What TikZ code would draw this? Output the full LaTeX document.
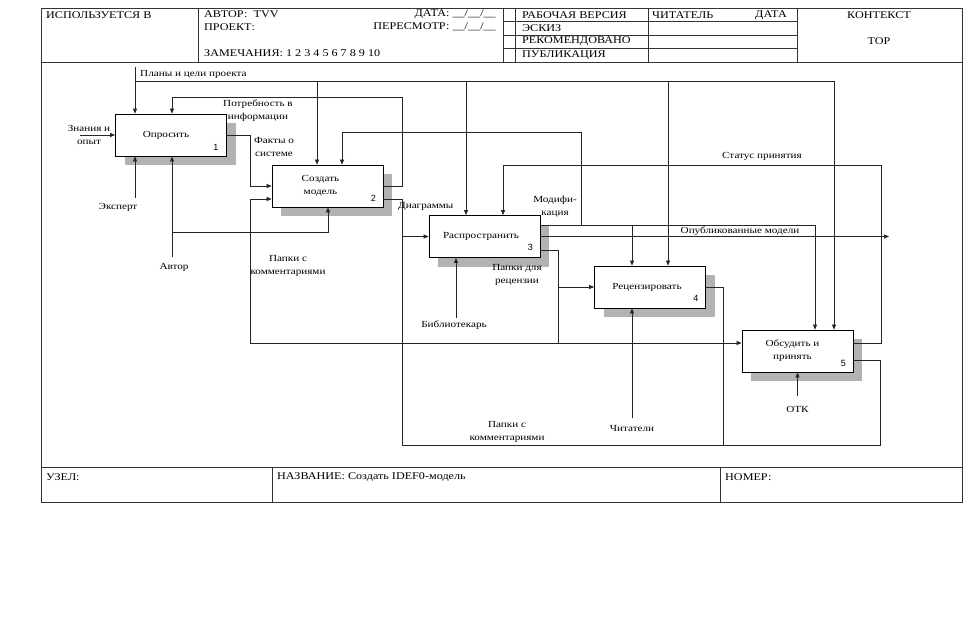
\documentclass[tikz,border=0pt]{standalone}
\usepackage{fontspec}
\setmainfont{Liberation Serif}
\setsansfont{Liberation Sans}
\newfontfamily\lblfont[FakeStretch=1.2]{Liberation Serif}
\newfontfamily\hdrfont[FakeStretch=1.18]{Liberation Serif}
\usetikzlibrary{arrows.meta,shadows}
\begin{document}
\begin{tikzpicture}[x=1pt,y=-1pt,
  ln/.style={line width=0.7pt, draw=black!85},
  arr/.style={ln, -{Triangle[length=5pt,width=4pt]}},
  fn/.style={draw=black, line width=0.8pt, fill=white, minimum width=111pt, minimum height=42pt, inner sep=0pt,
    drop shadow={shadow xshift=9pt, shadow yshift=-9pt, fill=black!30, opacity=1}},
  lbl/.style={font=\lblfont\fontsize{9.3}{13}\selectfont, align=center, inner sep=0pt},
  num/.style={font=\sffamily\fontsize{9}{10}\selectfont, inner sep=0pt},
  hdr/.style={font=\hdrfont\fontsize{10.3}{11}\selectfont, inner sep=0pt, anchor=west},
  frm/.style={line width=0.7pt, draw=black!80}
]
\useasboundingbox (0,0) rectangle (973,628);
\fill[white] (0,0) rectangle (973,628);

% ---------- frame, header, footer ----------
\draw[frm] (41,8) rectangle (962,502);
\draw[frm] (41,62) -- (962,62);
\draw[frm] (41,467) -- (962,467);
\draw[frm] (198,8) -- (198,62);
\draw[frm] (503,8) -- (503,62);
\draw[frm] (515,8) -- (515,62);
\draw[frm] (648,8) -- (648,62);
\draw[frm] (797,8) -- (797,62);
\draw[frm] (503,21.5) -- (797,21.5);
\draw[frm] (503,35) -- (797,35);
\draw[frm] (503,48.5) -- (797,48.5);
\draw[frm] (272,467) -- (272,502);
\draw[frm] (720,467) -- (720,502);

\node[hdr] (h1) at (46,15) {ИСПОЛЬЗУЕТСЯ В};
\node[hdr] (h2) at (204,14) {АВТОР:\ \ TVV};
\node[hdr,anchor=east] (h3) at (496,14) {ДАТА: \_\_/\_\_/\_\_};
\node[hdr] (h4) at (204,27) {ПРОЕКТ:};
\node[hdr,anchor=east] (h5) at (496,27) {ПЕРЕСМОТР: \_\_/\_\_/\_\_};
\node[hdr] (h6) at (204,53) {ЗАМЕЧАНИЯ: 1 2 3 4 5 6 7 8 9 10};
\node[hdr] (h7) at (522,15) {РАБОЧАЯ ВЕРСИЯ};
\node[hdr] (h8) at (522,28) {ЭСКИЗ};
\node[hdr] (h9) at (522,41.5) {РЕКОМЕНДОВАНО};
\node[hdr] (h10) at (522,55) {ПУБЛИКАЦИЯ};
\node[hdr] (h11) at (652,15) {ЧИТАТЕЛЬ};
\node[hdr] (h12) at (755,15) {ДАТА};
\node[hdr,anchor=center] (h13) at (879,15) {КОНТЕКСТ};
\node[hdr,anchor=center] (h14) at (879,41) {TOP};
\node[hdr] (f1) at (46,477) {УЗЕЛ:};
\node[hdr] (f2) at (277,477) {НАЗВАНИЕ: Создать IDEF0-модель};
\node[hdr] (f3) at (725,477) {НОМЕР:};

% ---------- function boxes ----------
\node[fn] (b1) at (171,135) {};
\node[fn] (b2) at (327.5,186) {};
\node[fn] (b3) at (484.5,236.5) {};
\node[fn] (b4) at (650,287) {};
\node[fn] (b5) at (797.5,351) {};

\node[lbl] (t1) at ([xshift=-5pt]b1.center) {Опросить};
\node[lbl] (t2) at ([xshift=-7pt]b2.center) {Создать\\модель};
\node[lbl] (t3) at ([xshift=-3.5pt]b3.center) {Распространить};
\node[lbl] (t4) at ([xshift=-3pt]b4.center) {Рецензировать};
\node[lbl] (t5) at ([xshift=-5pt]b5.center) {Обсудить и\\принять};
\node[num] (n1) at ([shift={(-11,-9)}]b1.south east) {1};
\node[num] (n2) at ([shift={(-10,-9)}]b2.south east) {2};
\node[num] (n3) at ([shift={(-10,-10)}]b3.south east) {3};
\node[num] (n4) at ([shift={(-10,-10)}]b4.south east) {4};
\node[num] (n5) at ([shift={(-10,-9)}]b5.south east) {5};

% ---------- free ends ----------
\coordinate (plans) at (135,67);
\coordinate (znan) at (80,135);
\coordinate (expt) at (135,198);
\coordinate (avtr) at (172,257);
\coordinate (bibl) at (456,318);
\coordinate (chit) at (632,418);
\coordinate (otk) at (797.5,396);
\coordinate (publ) at (889,236.5);

% ---------- connectors ----------
% Планы и цели проекта
\draw[arr] (plans) -- (plans |- b1.north);
\draw[arr] (135,81) -| (834,0 |- b5.north);
\draw[arr] (317,81) -- (317,0 |- b2.north);
\draw[arr] (466,81) -- (466,0 |- b3.north);
\draw[arr] (668,81) -- (668,0 |- b4.north);
% Потребность в информации
\draw[arr] (b2.east) -| (402,97) -| (172,0 |- b1.north);
% Знания и опыт
\draw[arr] (znan) -- (b1.west);
% Эксперт, Автор
\draw[arr] (expt) -- (expt |- b1.south);
\draw[arr] (avtr) -- (avtr |- b1.south);
\draw[arr] (172,232) -| (328,0 |- b2.south);
% Факты о системе
\draw[arr] (b1.east) -| (250,186) -- (b2.west);
% Диаграммы and bottom loop
\draw[ln] (b2.east |- 0,199) -| (402,445) -| (880,360) -- (b5.east |- 0,360);
\draw[ln] (b4.east) -| (723,445);
\draw[arr] (402,236.5) -- (b3.west);
% Папки для рецензии / Папки с комментариями
\draw[arr] (b3.east |- 0,250) -| (558,343) -- (b5.west |- 0,343);
\draw[arr] (558,287) -- (b4.west);
\draw[arr] (558,343) -| (250,199) -- (b2.west |- 0,199);
% Модификация
\draw[arr] (b3.east |- 0,225) -| (815,0 |- b5.north);
\draw[arr] (581,225) |- (342,132) -- (342,0 |- b2.north);
\draw[arr] (632,225) -- (632,0 |- b4.north);
% Опубликованные модели
\draw[arr] (b3.east) -- (publ);
% Статус принятия
\draw[arr] (b5.east |- 0,343) -| (881,165) -| (503,0 |- b3.north);
% mechanisms
\draw[arr] (bibl) -- (bibl |- b3.south);
\draw[arr] (chit) -- (chit |- b4.south);
\draw[arr] (otk) -- (b5.south);

% ---------- arrow labels ----------
\node[lbl,anchor=west] (l1) at (140,74) {Планы и цели проекта};
\node[lbl] (l2) at (258,110.5) {Потребность в\\информации};
\node[lbl] (l3) at (89,135) {Знания и\\опыт};
\node[lbl] (l4) at (274,147) {Факты о\\системе};
\node[lbl] (l5) at (118,207) {Эксперт};
\node[lbl] (l6) at (174,267) {Автор};
\node[lbl,anchor=west] (l7) at (398,206) {Диаграммы};
\node[lbl] (l8) at (288,266) {Папки с\\комментариями};
\node[lbl] (l9) at (555,207) {Модифи-\\кация};
\node[lbl] (l10) at (762,156) {Статус принятия};
\node[lbl] (l11) at (740,231) {Опубликованные модели};
\node[lbl] (l12) at (517,275) {Папки для\\рецензии};
\node[lbl] (l13) at (454,325) {Библиотекарь};
\node[lbl] (l14) at (632,428) {Читатели};
\node[lbl] (l15) at (797.5,409) {ОТК};
\node[lbl] (l16) at (507,431.5) {Папки с\\комментариями};
\end{tikzpicture}
\end{document}
